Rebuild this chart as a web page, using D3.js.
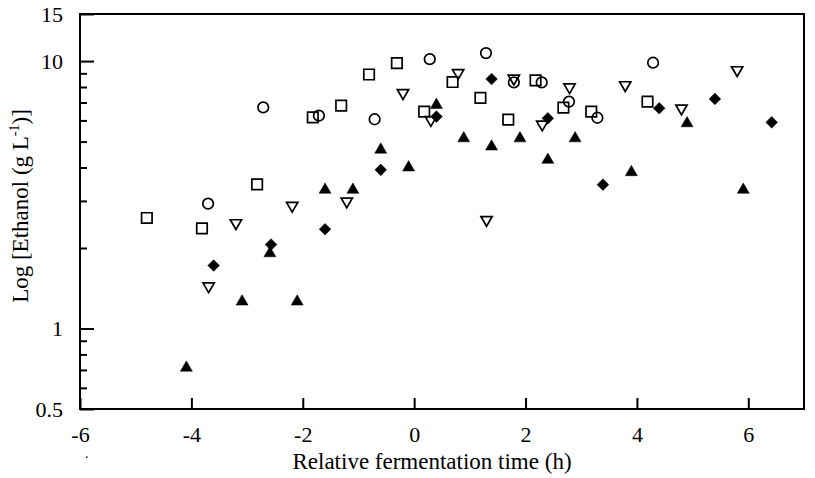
<!DOCTYPE html>
<html>
<head>
<meta charset="utf-8">
<script src="https://cdn.jsdelivr.net/npm/d3@7"></script>
<style>
  body { margin: 0; background: #fff; }
  text { font-family: "Liberation Serif", "Times New Roman", serif; fill: #000; }
</style>
</head>
<body>
<script>
// relative fermentation time (h) and ethanol (g/L) for each symbol set
var squareX = [-4.80, -3.81, -2.82, -1.82, -1.31, -0.81, -0.31, 0.18, 0.69, 1.19, 1.69, 2.18, 2.68, 3.18, 4.19];
var squareY = [2.59, 2.37, 3.46, 6.16, 6.81, 8.91, 9.83, 6.47, 8.35, 7.28, 6.04, 8.47, 6.70, 6.47, 7.05];

var circleX = [-3.70, -2.71, -1.71, -0.71, 0.28, 1.29, 1.79, 2.29, 2.78, 3.29, 4.29];
var circleY = [2.93, 6.71, 6.25, 6.06, 10.17, 10.71, 8.32, 8.32, 7.05, 6.14, 9.86];

var downX = [-3.69, -3.20, -2.19, -1.21, -0.20, 0.30, 0.79, 1.30, 1.79, 2.30, 2.79, 3.79, 4.80, 5.80];
var downY = [1.44, 2.48, 2.88, 2.99, 7.60, 6.03, 9.04, 2.55, 8.61, 5.80, 7.99, 8.14, 6.66, 9.26];

var diamondX = [-3.60, -2.57, -1.60, -0.60, 0.40, 1.39, 2.40, 3.39, 4.40, 5.40, 6.42];
var diamondY = [1.72, 2.06, 2.35, 3.92, 6.20, 8.57, 6.11, 3.45, 6.66, 7.22, 5.90];

var upX = [-4.09, -3.09, -2.59, -2.10, -1.60, -1.10, -0.60, -0.10, 0.40, 0.89, 1.39, 1.90, 2.40, 2.89, 3.90, 4.90, 5.91];
var upY = [0.713, 1.26, 1.91, 1.26, 3.30, 3.30, 4.66, 4.00, 6.85, 5.14, 4.79, 5.14, 4.27, 5.14, 3.84, 5.85, 3.30];

var xTicks = [-6, -4, -2, 0, 2, 4, 6];
var yTicks = [0.5, 1, 10, 15];
var yMinor = [0.6, 0.7, 0.8, 0.9, 2, 3, 4, 5, 6, 7, 8, 9];

var width = 815, height = 478;
var margin = {left: 80, right: 11, top: 14, bottom: 69};

var svg = d3.select("body").append("svg")
  .attr("width", width)
  .attr("height", height);

var x = d3.scaleLinear().domain([-6, 7]).range([margin.left, width - margin.right]);
var y = d3.scaleLog().domain([0.5, 15]).range([height - margin.bottom, margin.top]);

// frame
svg.append("rect")
  .attr("x", x(-6)).attr("y", y(15))
  .attr("width", x(7) - x(-6)).attr("height", y(0.5) - y(15))
  .attr("fill", "none").attr("stroke", "#000").attr("stroke-width", 2);

var xAxis = svg.append("g")
  .attr("transform", "translate(0," + y(0.5) + ")")
  .call(d3.axisBottom(x).tickValues(xTicks).tickSize(-11).tickPadding(17).tickFormat(function(d){ return d; }));

var yAxis = svg.append("g")
  .attr("transform", "translate(" + x(-6) + ",0)")
  .call(d3.axisLeft(y).tickValues(yTicks).tickSize(-14).tickPadding(17).tickFormat(function(d){ return d; }));

var yMinorAxis = svg.append("g")
  .attr("transform", "translate(" + x(-6) + ",0)")
  .call(d3.axisLeft(y).tickValues(yMinor).tickSize(-7).tickFormat(""));

[xAxis, yAxis, yMinorAxis].forEach(function(g){
  g.select(".domain").remove();
  g.selectAll("line").attr("stroke", "#000").attr("stroke-width", 2);
  g.selectAll("text").style("font-size", "22px").attr("fill", "#000");
});

var sets = [
  {xs: squareX, ys: squareY, type: d3.symbolSquare, size: 110, fill: "none", rot: 0},
  {xs: circleX, ys: circleY, type: d3.symbolCircle, size: 88, fill: "none", rot: 0},
  {xs: downX, ys: downY, type: d3.symbolTriangle, size: 55, fill: "none", rot: 180},
  {xs: diamondX, ys: diamondY, type: d3.symbolSquare, size: 68, fill: "#000", rot: 45},
  {xs: upX, ys: upY, type: d3.symbolTriangle, size: 62, fill: "#000", rot: 0}
];

sets.forEach(function(s){
  var pts = s.xs.map(function(v, i){ return {x: v, y: s.ys[i]}; });
  svg.append("g").selectAll("path").data(pts)
    .enter()
    .append("path")
    .attr("d", d3.symbol().type(s.type).size(s.size))
    .attr("transform", function(d){ return "translate(" + x(d.x) + "," + y(d.y) + ") rotate(" + s.rot + ")"; })
    .attr("fill", s.fill)
    .attr("stroke", "#000")
    .attr("stroke-width", s.fill === "none" ? 1.7 : 0.5);
});

svg.append("text")
  .attr("x", 432)
  .attr("y", 469)
  .attr("text-anchor", "middle")
  .style("font-size", "23px")
  .text("Relative fermentation time (h)");

var yl = svg.append("text")
  .attr("transform", "translate(28,206) rotate(-90)")
  .attr("text-anchor", "middle")
  .style("font-size", "23px");
yl.append("tspan").text("Log [Ethanol (g L");
yl.append("tspan").attr("dy", -9).style("font-size", "14px").text("-1");
yl.append("tspan").attr("dy", 9).text(")]");

svg.append("text").attr("x", 85).attr("y", 458).style("font-size", "14px").text(".");
</script>
</body>
</html>
